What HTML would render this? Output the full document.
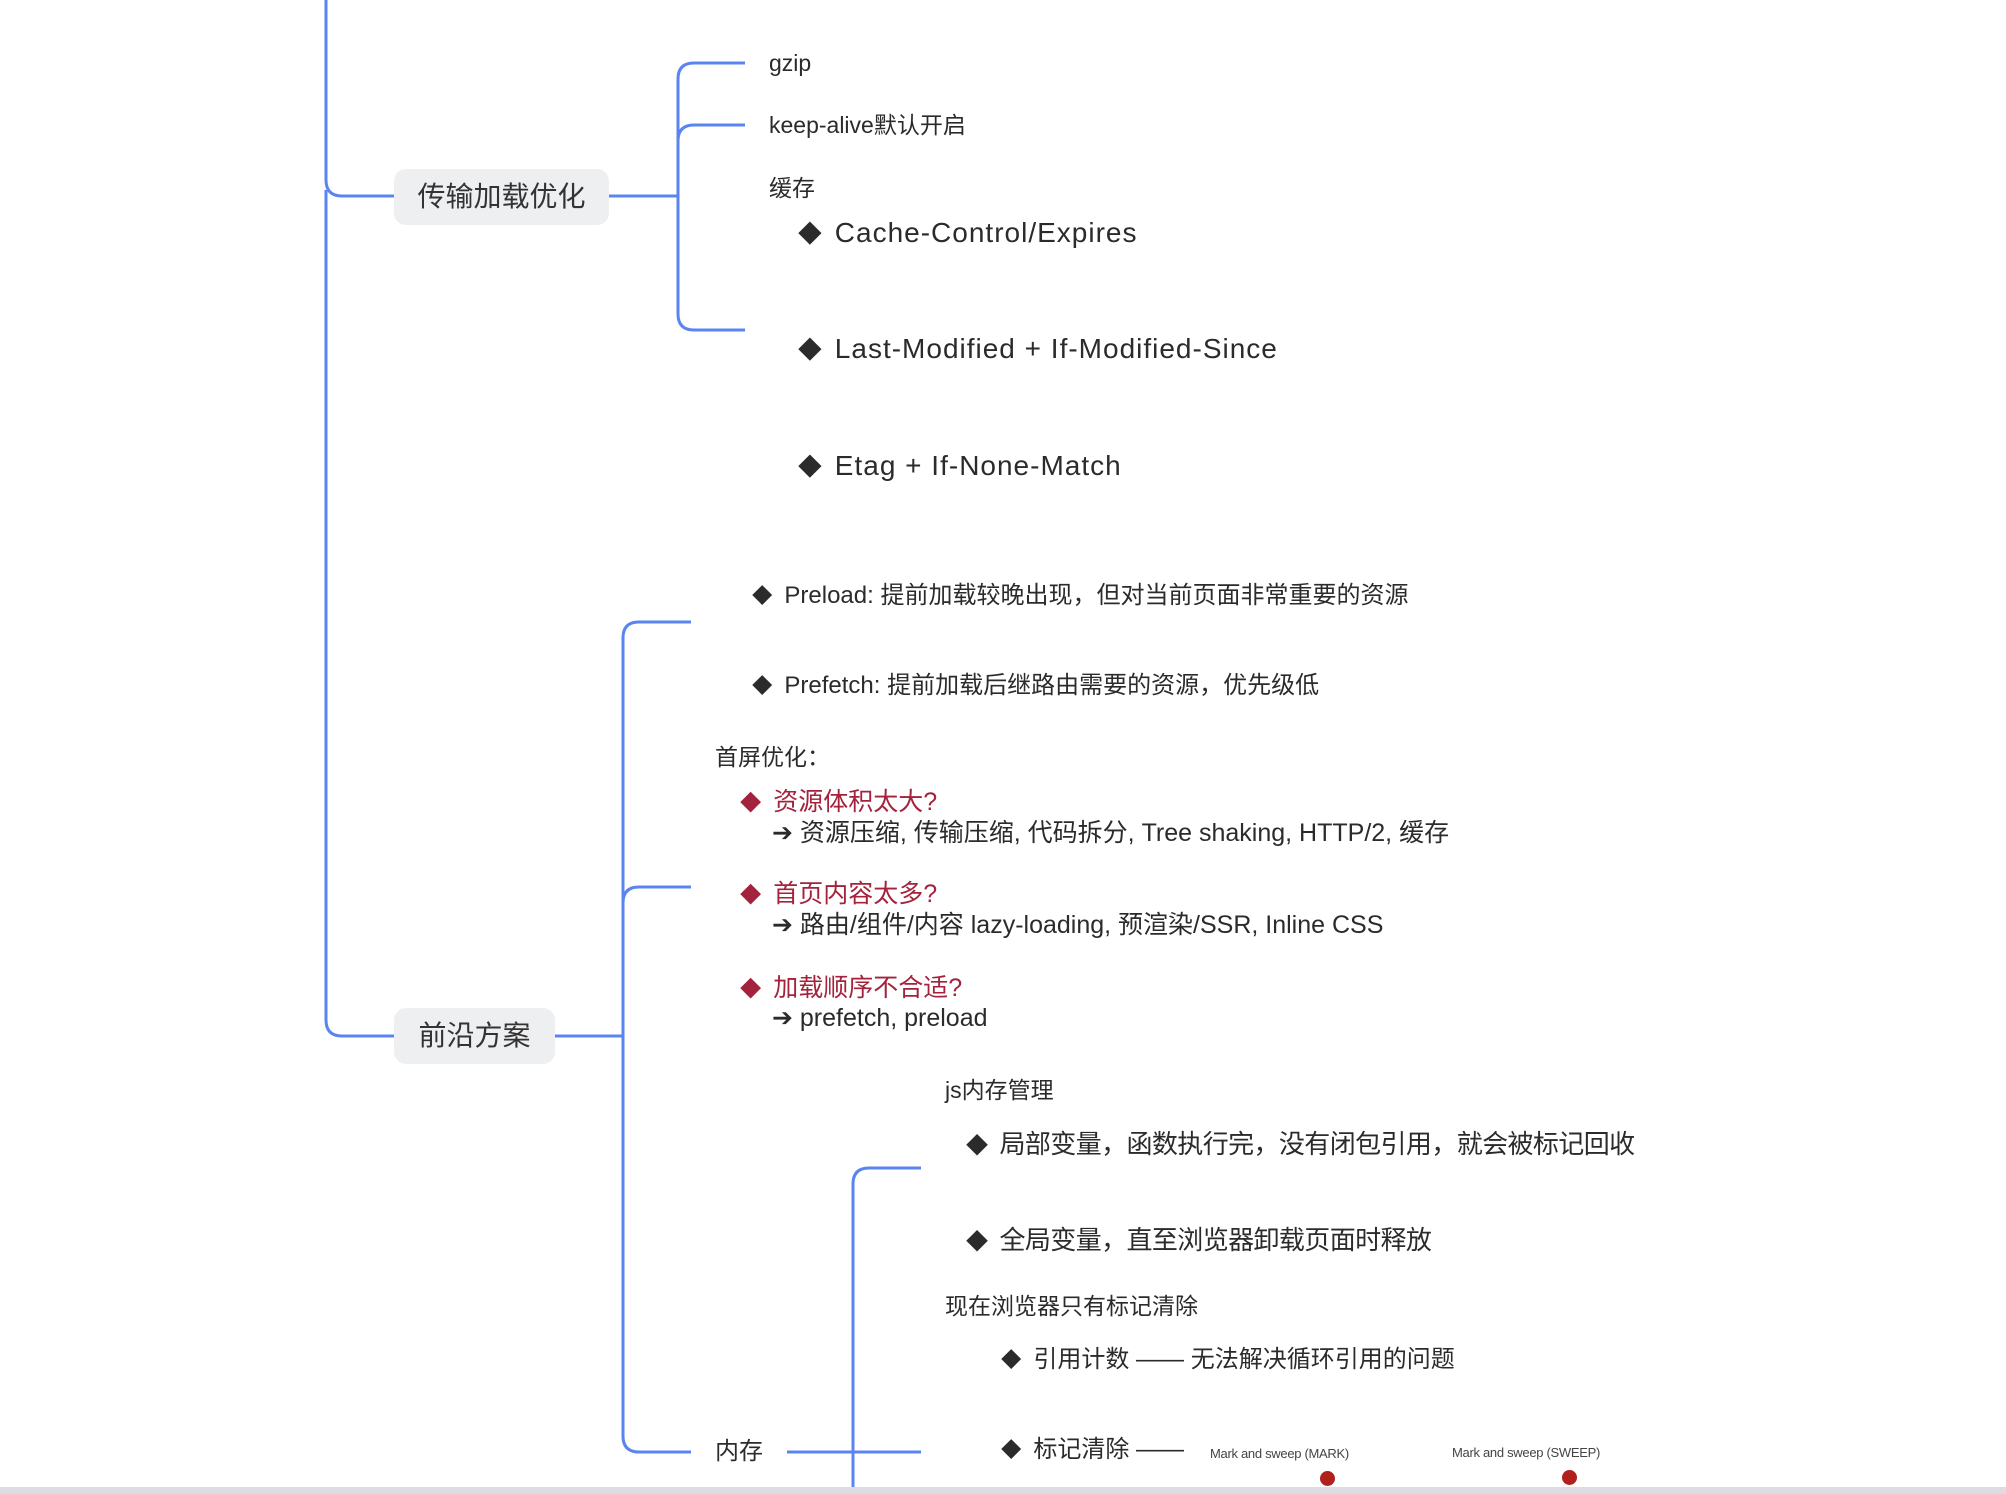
<!DOCTYPE html>
<html><head><meta charset="utf-8"><style>
body{margin:0;width:2006px;height:1494px;position:relative;overflow:hidden;background:#fff;font-family:"Liberation Sans","Noto Sans CJK SC",sans-serif;color:#2b2b2b}
.t{position:absolute;white-space:nowrap;height:40px;line-height:40px}
.node{position:absolute;background:#eeeff1;border-radius:12px;font-size:28px;color:#333;text-align:center}
.r{color:#a3223c}
.d{font-size:0.85em;display:inline-block;margin-right:12px}
</style></head><body>
<svg width="2006" height="1494" style="position:absolute;left:0;top:0" fill="none" stroke="#5a84f0" stroke-width="3">
<path d="M326 0 V180 Q326 196 342 196 H394"/>
<path d="M326 190 V1020 Q326 1036 342 1036 H394"/>
<path d="M609 196 H678"/>
<path d="M745 63 H694 Q678 63 678 79 V314 Q678 330 694 330 H745"/>
<path d="M745 125 H694 Q678 125 678 141"/>
<path d="M555 1036 H623"/>
<path d="M691 622 H639 Q623 622 623 638 V1436 Q623 1452 639 1452 H691"/>
<path d="M691 887 H639 Q623 887 623 903"/>
<path d="M787 1452 H921"/>
<path d="M921 1168 H869 Q853 1168 853 1184 V1494"/>
</svg>
<div class="node" style="left:394px;top:169px;width:215px;height:56px;line-height:56px">传输加载优化</div>
<div class="node" style="left:394px;top:1008px;width:161px;height:56px;line-height:56px">前沿方案</div>

<div class="t" style="left:769px;top:43px;font-size:23px">gzip</div>
<div class="t" style="left:769px;top:105px;font-size:23px">keep-alive默认开启</div>
<div class="t" style="left:769px;top:168px;font-size:23px">缓存</div>
<div class="t" style="left:798px;top:213px;font-size:28px;letter-spacing:1px"><span class="d">◆</span>Cache-Control/Expires</div>
<div class="t" style="left:798px;top:329px;font-size:28px;letter-spacing:1px"><span class="d">◆</span>Last-Modified + If-Modified-Since</div>
<div class="t" style="left:798px;top:446px;font-size:28px;letter-spacing:1px"><span class="d">◆</span>Etag + If-None-Match</div>

<div class="t" style="left:752px;top:576px;font-size:24px"><span class="d">◆</span>Preload: 提前加载较晚出现，但对当前页面非常重要的资源</div>
<div class="t" style="left:752px;top:666px;font-size:24px"><span class="d">◆</span>Prefetch: 提前加载后继路由需要的资源，优先级低</div>
<div class="t" style="left:715px;top:737px;font-size:23px">首屏优化：</div>
<div class="t r" style="left:740px;top:782px;font-size:25px"><span class="d">◆</span>资源体积太大?</div>
<div class="t" style="left:772px;top:813px;font-size:25px">➔ 资源压缩, 传输压缩, 代码拆分, Tree shaking, HTTP/2, 缓存</div>
<div class="t r" style="left:740px;top:874px;font-size:25px"><span class="d">◆</span>首页内容太多?</div>
<div class="t" style="left:772px;top:905px;font-size:25px">➔ 路由/组件/内容 lazy-loading, 预渲染/SSR, Inline CSS</div>
<div class="t r" style="left:740px;top:968px;font-size:25px"><span class="d">◆</span>加载顺序不合适?</div>
<div class="t" style="left:772px;top:998px;font-size:25px">➔ prefetch, preload</div>

<div class="t" style="left:945px;top:1070px;font-size:23px">js内存管理</div>
<div class="t" style="left:966px;top:1124px;font-size:26px;letter-spacing:-0.6px"><span class="d">◆</span>局部变量，函数执行完，没有闭包引用，就会被标记回收</div>
<div class="t" style="left:966px;top:1220px;font-size:26px;letter-spacing:-0.6px"><span class="d">◆</span>全局变量，直至浏览器卸载页面时释放</div>
<div class="t" style="left:945px;top:1286px;font-size:23px">现在浏览器只有标记清除</div>
<div class="t" style="left:1001px;top:1340px;font-size:24px"><span class="d">◆</span>引用计数 —— 无法解决循环引用的问题</div>
<div class="t" style="left:1001px;top:1430px;font-size:24px"><span class="d">◆</span>标记清除 ——</div>
<div class="t" style="left:715px;top:1432px;font-size:24px">内存</div>
<div class="t" style="left:1210px;top:1434px;font-size:13px;letter-spacing:-0.3px;color:#444">Mark and sweep (MARK)</div>
<div class="t" style="left:1452px;top:1433px;font-size:13px;letter-spacing:-0.3px;color:#444">Mark and sweep (SWEEP)</div>
<div style="position:absolute;left:1320px;top:1471px;width:15px;height:15px;border-radius:50%;background:#b0201c"></div>
<div style="position:absolute;left:1562px;top:1470px;width:15px;height:15px;border-radius:50%;background:#b0201c"></div>
<div style="position:absolute;left:0;top:1487px;width:2006px;height:7px;background:#dcdde0"></div>
</body></html>
